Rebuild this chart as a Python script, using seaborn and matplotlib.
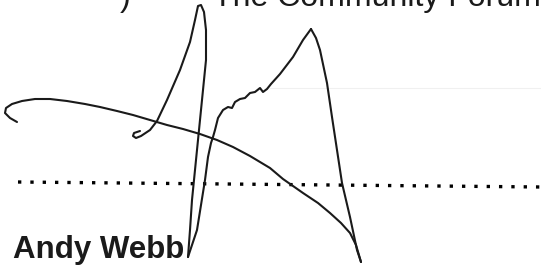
import matplotlib
matplotlib.use('Agg')
import matplotlib.pyplot as plt
import seaborn as sns
import pandas as pd

# signature strokes, traced in pixel units (x right, y down)
loop_x = [140, 134, 133, 136, 141, 150, 157, 167, 180, 190, 195, 198, 201, 204, 206, 206, 204, 201, 198, 195, 192, 190, 188]
loop_y = [131, 133, 136, 138, 136, 130, 121, 100, 70, 42, 20, 6, 5, 12, 30, 60, 80, 110, 140, 170, 200, 230, 257]

rise_x = [188, 192, 197, 201, 205, 208, 211, 213, 215, 218, 223, 228, 232, 235, 240, 245, 250, 255, 260, 263, 267, 271, 280, 293, 303, 311]
rise_y = [257, 245, 230, 205, 180, 157, 143, 137, 130, 118, 110, 107, 108, 102, 99, 98, 93, 92, 88, 92, 89, 84, 74, 57, 40, 29]

fall_x = [311, 316, 320, 327, 332, 337, 342, 350, 357, 361]
fall_y = [29, 38, 50, 83, 117, 150, 183, 217, 250, 262]

arc_x = [17, 10, 5, 6, 12, 22, 35, 50, 67, 85, 100, 117, 133, 150, 167, 183, 200, 217, 233, 250, 270, 283, 303, 318, 330, 341, 350, 356, 361]
arc_y = [122, 118, 113, 108, 104, 101, 99, 99, 101, 104, 107, 111, 115, 120, 125, 129, 134, 140, 147, 156, 168, 179, 193, 203, 213, 223, 233, 245, 262]

# dotted signature line ends
dots_x = [18, 541]
dots_y = [182, 187]

header_bits = [')', 'The Community Forum']
header_x = [120, 213]
name = 'Andy Webb'

strokes = pd.concat([
    pd.DataFrame({'x': loop_x, 'y': loop_y, 'stroke': 'loop'}),
    pd.DataFrame({'x': rise_x, 'y': rise_y, 'stroke': 'rise'}),
    pd.DataFrame({'x': fall_x, 'y': fall_y, 'stroke': 'fall'}),
    pd.DataFrame({'x': arc_x, 'y': arc_y, 'stroke': 'arc'}),
])

sns.set_style('white')
plt.rcParams['font.family'] = ['Liberation Sans', 'DejaVu Sans']

fig = plt.figure(figsize=(5.41, 2.65), dpi=100)
ax = fig.add_axes([0, 0, 1, 1])

# faint scan line
ax.plot([270, 541], [88, 88], color='#f0f0f0', lw=0.8)

ax.plot(dots_x, dots_y, color='#000000', lw=2.4, dashes=(1, 2.7),
        dash_capstyle='butt', solid_capstyle='butt')

for s, grp in strokes.groupby('stroke', sort=False):
    sns.lineplot(data=grp, x='x', y='y', sort=False, estimator=None,
                 color='#1a1a1a', lw=1.5, ax=ax, legend=False)

for txt, x in zip(header_bits, header_x):
    ax.text(x, 6, txt, fontsize=23, color='#1a1a1a', va='baseline', ha='left')

ax.text(13, 258, name, fontsize=22.5, fontweight='bold', color='#1a1a1a',
        va='baseline', ha='left')

ax.set_xlim(0, 541)
ax.set_ylim(265, 0)
ax.axis('off')

plt.savefig('out.png', dpi=100)
